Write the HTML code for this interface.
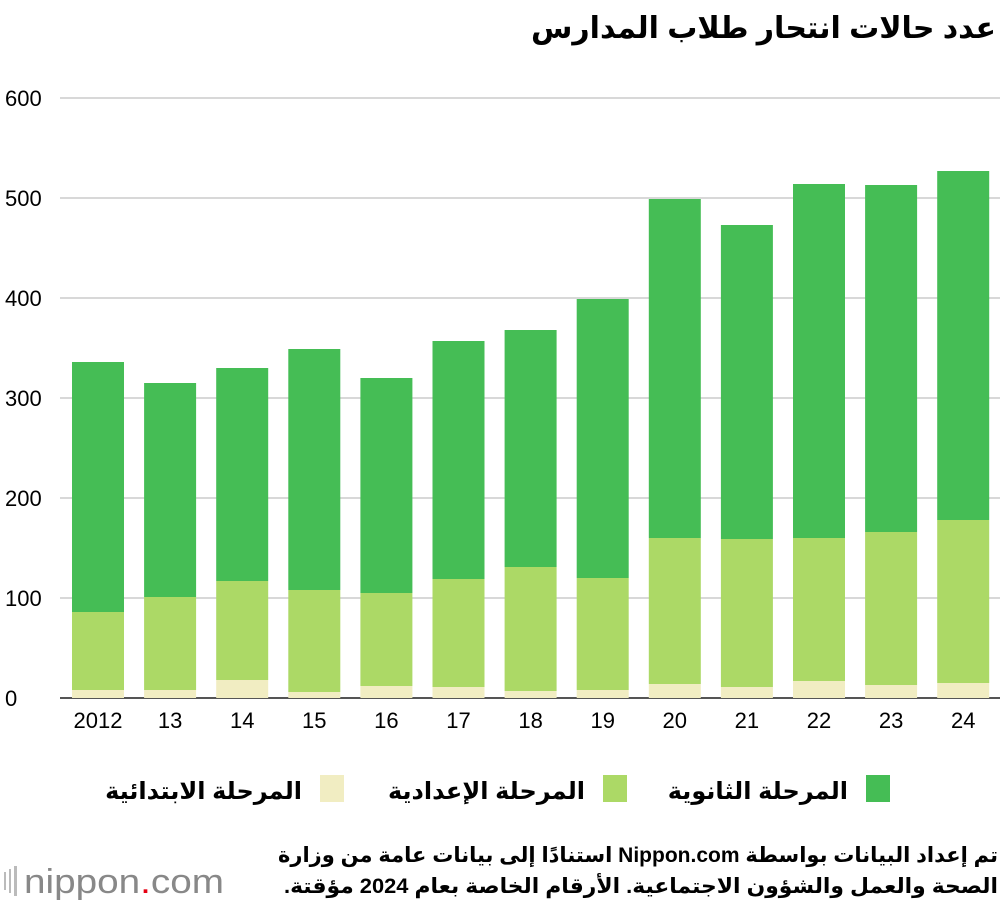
<!DOCTYPE html>
<html><head><meta charset="utf-8">
<style>
body{margin:0;width:1000px;height:906px;background:#fff;overflow:hidden;font-family:"Liberation Sans","DejaVu Sans",sans-serif;}
svg{display:block}
</style></head>
<body>
<svg id="chart" width="1000" height="906">
<text x="996" y="38" direction="rtl" text-anchor="start" font-size="30" font-weight="bold" fill="#000">عدد حالات انتحار طلاب المدارس</text>
<g id="grid"></g><g id="bars"></g><g id="labels"></g>
<g>
<rect x="866" y="775" width="24" height="27" fill="#45bd55"/>
<text x="848" y="799" text-anchor="end" font-size="24" font-weight="bold">المرحلة الثانوية</text>
<rect x="603" y="775" width="24" height="27" fill="#acd966"/>
<text x="585" y="799" text-anchor="end" font-size="24" font-weight="bold">المرحلة الإعدادية</text>
<rect x="320" y="775" width="24" height="27" fill="#f1edc2"/>
<text x="302" y="799" text-anchor="end" font-size="24" font-weight="bold">المرحلة الابتدائية</text>
</g>
<text x="998" y="862" direction="rtl" text-anchor="start" font-size="21" font-weight="bold" textLength="720" lengthAdjust="spacingAndGlyphs">تم إعداد البيانات بواسطة Nippon.com استنادًا إلى بيانات عامة من وزارة</text>
<text x="998" y="893" direction="rtl" text-anchor="start" font-size="21" font-weight="bold" textLength="714" lengthAdjust="spacingAndGlyphs">الصحة والعمل والشؤون الاجتماعية. الأرقام الخاصة بعام 2024 مؤقتة.</text>
<g>
<rect x="4" y="872" width="2" height="18" fill="#bbb"/><rect x="9" y="869" width="2" height="24" fill="#bbb"/><rect x="14" y="866" width="3" height="30" fill="#bbb"/>
<text x="24" y="893" font-size="34" fill="#888" textLength="200" lengthAdjust="spacingAndGlyphs">nippon<tspan fill="#e60012">.</tspan>com</text>
</g>
</svg>
<script>
const years=["2012","13","14","15","16","17","18","19","20","21","22","23","24"];
const elementary=[8,8,18,6,12,11,7,8,14,11,17,13,15];
const middle=[78,93,99,102,93,108,124,112,146,148,143,153,163];
const high=[250,214,213,241,215,238,237,279,339,314,354,347,349];
const ticks=[0,100,200,300,400,500,600];
const NS="http://www.w3.org/2000/svg";
const y0=698, sc=1.0, x0=98, step=72.1, bw=52;
const yS=v=>y0-v*sc, xS=i=>x0+i*step;
function mk(t,a,p){const e=document.createElementNS(NS,t);for(const k in a)e.setAttribute(k,a[k]);p.appendChild(e);return e;}
const g=document.getElementById('grid'),b=document.getElementById('bars'),l=document.getElementById('labels');
ticks.forEach(t=>{
const ln=mk('line',{x1:60,x2:1000,y1:yS(t),y2:yS(t),stroke:t===0?'#555':'#ccc','stroke-width':t===0?2:1.5},g);


const tx=mk('text',{x:5,y:yS(t)+8,'font-size':22,fill:'#000'},g);tx.textContent=t;


});
years.forEach((yr,i)=>{
const segs=[[elementary[i],'#f1edc2','elementary'],[middle[i],'#acd966','middle'],[high[i],'#45bd55','high']];
let base=0;
segs.forEach(([v,c,n])=>{
const r=mk('rect',{x:xS(i)-bw/2,y:yS(base+v),width:bw,height:v*sc,fill:c},b);


base+=v;});
const tx=mk('text',{x:xS(i),y:728,'text-anchor':'middle','font-size':22},l);tx.textContent=yr;


});
</script>
</body></html>
